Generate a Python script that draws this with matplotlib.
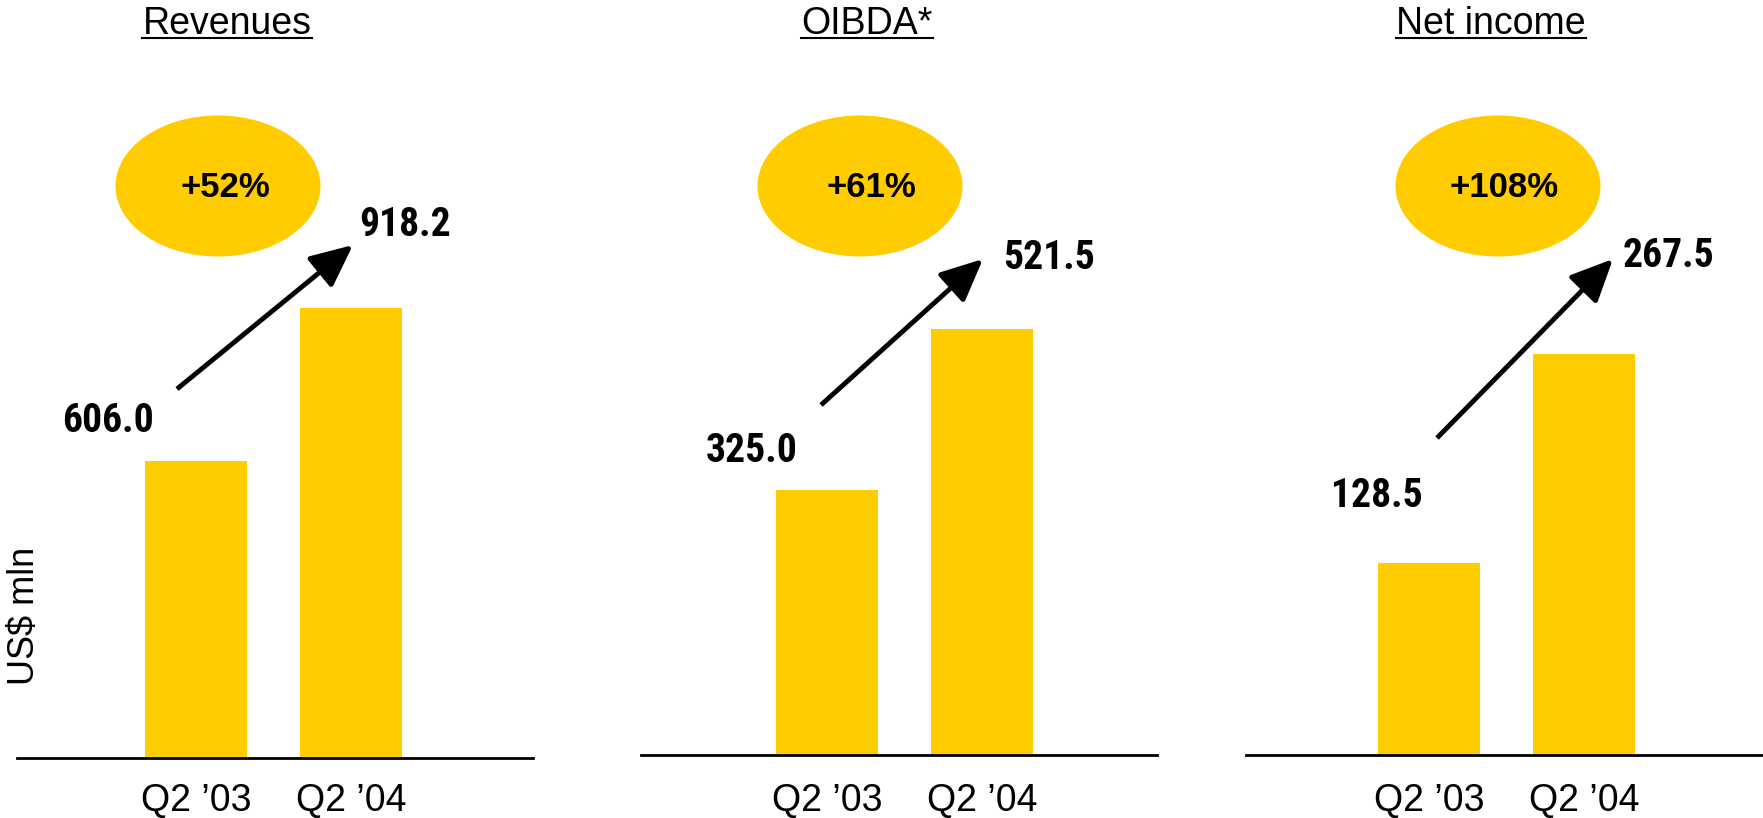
import matplotlib
matplotlib.use('Agg')
import matplotlib.pyplot as plt
from matplotlib import font_manager
from matplotlib.patches import Ellipse, FancyArrowPatch
from matplotlib.lines import Line2D

# ---- data ----
panel_titles = ['Revenues', 'OIBDA*', 'Net income']
periods = ['Q2 \u201903', 'Q2 \u201904']
revenues = [606.0, 918.2]
oibda = [325.0, 521.5]
net_income = [128.5, 267.5]
growth = ['+52%', '+61%', '+108%']
unit_label = 'US$ mln'

series = [revenues, oibda, net_income]

# ---- layout (pixels, measured from top-left of a 1763x818 canvas) ----
W, H = 1763, 818
axis_span = [(17, 533), (641, 1157), (1246, 1763)]
baseline = [758, 755, 755]
first_bar = [196, 827, 1429]
bar_step = 155
px_per_unit = [0.4905, 0.816, 1.498]
title_pos = [(227, 34), (867, 34), (1491, 34)]
ellipse_pos = [(218, 186), (860, 186), (1498, 186)]
ellipse_size = (205, 141)
growth_pos = [(225, 197), (871, 197), (1504, 197)]
arrows = [((177, 389), (353, 245)), ((821, 405), (983, 259)), ((1437, 438), (1613, 259))]
# value label offsets (dx, dy up) from the top of each bar to the label baseline
label_off = [[(-88, 29), (54, 72)], [(-75, 28), (67, 60)], [(-52, 56), (85, 87)]]

yellow = '#FFCC00'


def _weight(f):
    w = f.weight
    if isinstance(w, str):
        return 700 if 'bold' in w.lower() else 400
    return w


# the value labels use a narrow bold face (Arial Narrow look-alike)
bold_names = {f.name for f in font_manager.fontManager.ttflist if _weight(f) >= 700}
narrow_choices = [('Liberation Sans Narrow', 30), ('Arial Narrow', 30), ('Roboto Condensed', 28.5),
                  ('Archivo Narrow', 30), ('PT Sans Narrow', 31),
                  ('IBM Plex Sans Condensed', 29), ('Open Sans Condensed', 28)]
num_font, num_size = next(((n, s) for n, s in narrow_choices if n in bold_names),
                          ('Liberation Sans', 25))

plt.rcParams['font.family'] = ['Liberation Sans', 'DejaVu Sans']

fig = plt.figure(figsize=(W / 100, H / 100), dpi=100)


def fx(x):
    return x / W


def fy(y):
    return (H - y) / H


for i in range(3):
    left, right = axis_span[i]
    base = baseline[i]
    ax = fig.add_axes([fx(left), fy(base), (right - left) / W, base / H])
    ax.set_xlim((left - first_bar[i]) / bar_step, (right - first_bar[i]) / bar_step)
    ax.set_ylim(0, base / px_per_unit[i])
    ax.set_facecolor('none')
    vals = series[i]
    ax.bar([0, 1], vals, width=0.66, color=yellow)
    for s in ['top', 'left', 'right']:
        ax.spines[s].set_visible(False)
    ax.spines['bottom'].set_linewidth(2)
    ax.spines['bottom'].set_color('black')
    ax.set_yticks([])
    ax.set_xticks([0, 1])
    ax.set_xticklabels(periods, fontsize=27)
    ax.tick_params(axis='x', length=0, pad=18 if i == 0 else 20)

    for j, v in enumerate(vals):
        dx, dy = label_off[i][j]
        ax.annotate(f'{v:.1f}', xy=(j, v), xytext=(dx, dy), textcoords='offset pixels',
                    ha='center', va='baseline', fontsize=num_size, fontweight='bold',
                    family=[num_font, 'Liberation Sans'])

    # growth bubble
    ex, ey = ellipse_pos[i]
    fig.add_artist(Ellipse((fx(ex), fy(ey)), ellipse_size[0] / W, ellipse_size[1] / H,
                           transform=fig.transFigure, facecolor=yellow, edgecolor='none'))
    gx, gy = growth_pos[i]
    fig.text(fx(gx), fy(gy), growth[i], ha='center', va='baseline', fontsize=25,
             fontweight='bold')

    # arrow
    (ax0, ay0), (ax1, ay1) = arrows[i]
    fig.add_artist(FancyArrowPatch((fx(ax0), fy(ay0)), (fx(ax1), fy(ay1)),
                                   transform=fig.transFigure,
                                   arrowstyle='-|>,head_length=1.3,head_width=0.6',
                                   mutation_scale=20, lw=3.5, color='black',
                                   shrinkA=0, shrinkB=0, capstyle='butt'))

    # underlined title
    tx, ty = title_pos[i]
    t = fig.text(fx(tx), fy(ty), panel_titles[i], ha='center', va='baseline', fontsize=27)
    renderer = fig.canvas.get_renderer()
    bb = t.get_window_extent(renderer)
    fig.add_artist(Line2D([bb.x0 / W, bb.x1 / W], [fy(ty + 4)] * 2,
                          transform=fig.transFigure, color='black', lw=1.5))

fig.text(fx(24), fy(616), unit_label, rotation=90, ha='center', va='center', fontsize=26)

fig.savefig('out.png', dpi=100)
